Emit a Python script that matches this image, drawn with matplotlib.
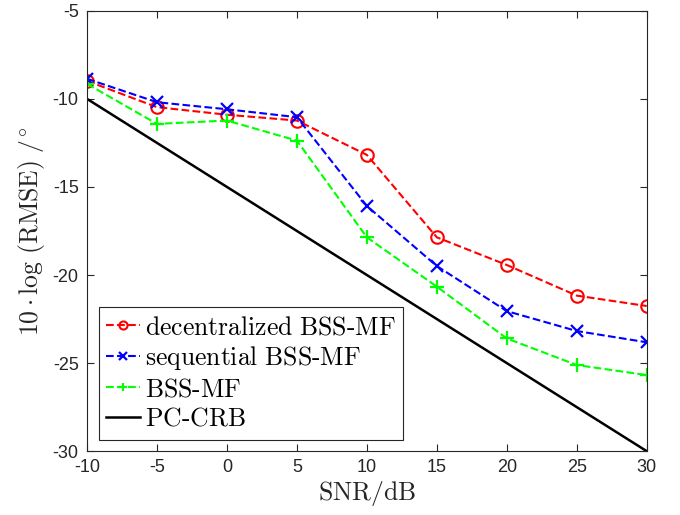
import numpy as np
import matplotlib.pyplot as plt

plt.rcParams['mathtext.fontset'] = 'cm'
plt.rcParams['axes.unicode_minus'] = False

snr = [-10, -5, 0, 5, 10, 15, 20, 25, 30]
decentralized = [-8.98, -10.47, -10.9, -11.23, -13.18, -17.86, -19.43, -21.17, -21.76]
sequential = [-8.86, -10.19, -10.59, -11.04, -16.08, -19.49, -22.05, -23.18, -23.82]
bss_mf = [-9.15, -11.42, -11.23, -12.37, -17.86, -20.66, -23.6, -25.11, -25.68]
crb_snr = [-10, 30]
pc_crb = [-10, -30]

fig = plt.figure(figsize=(6.8, 5.15), dpi=100)
ax = fig.add_axes([0.128, 0.124, 0.823, 0.855])

ax.plot(snr, decentralized, '--o', color='red', lw=1.5, ms=9, mfc='none', mew=1.5,
        label=r'$\mathrm{decentralized\ BSS\text{-}MF}$')
ax.plot(snr, sequential, '--x', color='blue', lw=1.5, ms=8, mew=1.6,
        label=r'$\mathrm{sequential\ BSS\text{-}MF}$')
ax.plot(snr, bss_mf, '--+', color=(0, 1, 0), lw=1.5, ms=9.5, mew=1.6,
        label=r'$\mathrm{BSS\text{-}MF}$')
ax.plot(crb_snr, pc_crb, '-', color='black', lw=1.8, label=r'$\mathrm{PC\text{-}CRB}$')

ax.set_xlim(-10, 30)
ax.set_ylim(-30, -5)
ax.set_xticks(np.arange(-10, 31, 5))
ax.set_yticks(np.arange(-30, -4, 5))
ax.tick_params(direction='in', top=True, right=True, labelsize=13, colors='#262626',
               length=5, pad=6)
for lab in ax.get_xticklabels() + ax.get_yticklabels():
    lab.set_family('Liberation Sans')
for s in ax.spines.values():
    s.set_color('#262626')
    s.set_linewidth(0.8)

ax.set_xlabel(r'$\mathrm{SNR/dB}$', fontsize=18.5, color='#262626', labelpad=2)
ax.set_ylabel(r'$10\cdot\log\,\mathrm{(RMSE)}\ /^{\circ}$', fontsize=18.5, color='#262626',
              labelpad=4)

leg = ax.legend(loc='lower left', fontsize=18.5, fancybox=False, edgecolor='#262626',
                framealpha=1, handlelength=1.3, handletextpad=0.2, borderaxespad=0.45,
                labelspacing=0.15, markerscale=0.65, borderpad=0.3)
leg.get_frame().set_linewidth(0.8)

fig.savefig('out.png', dpi=100)
